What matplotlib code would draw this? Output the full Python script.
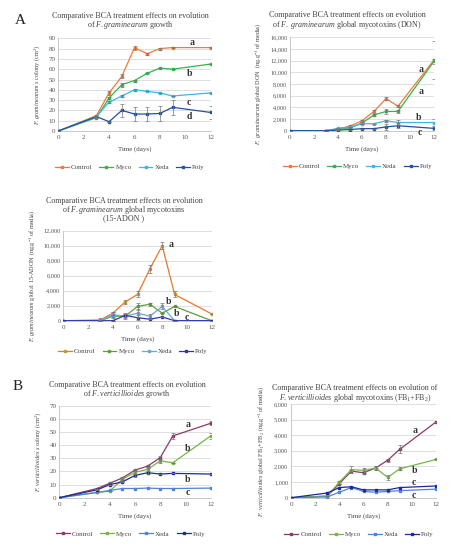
import numpy as np
import matplotlib
matplotlib.use("Agg")
import matplotlib.pyplot as plt

plt.rcParams['font.family'] = 'Liberation Serif'
plt.rcParams['mathtext.fontset'] = 'custom'
plt.rcParams['mathtext.rm'] = 'Liberation Serif'
plt.rcParams['mathtext.it'] = 'Liberation Serif:italic'

W, H = 455, 550

days = [0, 3, 4, 5, 6, 7, 8, 9, 12]
series_names = ["Control", "Myco", "Xeda", "Poly"]

# A1 - F. graminearum growth (cm2)
fg_growth = [
    [0, 15, 37, 53, 81, 75, 80, 81, 81],
    [0, 13, 32, 45, 49, 56, 61, 60, 65],
    [0, 14, 28, 34, 40, 38.5, 37, 34, 37],
    [0, 14, 9, 20, 16.5, 16.5, 17, 23, 18],
]
fg_growth_err = [
    [0, 1, 2, 2, 2, 1, 1, 0.5, 0.5],
    [0, 0, 1, 2, 1, 0, 0, 0, 0],
    [0, 0, 1, 1, 1, 0, 0, 0, 0],
    [0, 1, 0, 6, 7, 7, 7, 7, 6],
]
fg_growth_letters = [("a", 10.5, 86), ("b", 10.3, 56), ("c", 10.3, 28), ("d", 10.3, 14)]

# A2 - F. graminearum DON
fg_don = [
    [0, 0, 300, 800, 1700, 3300, 5500, 4200, 12100],
    [0, 0, 200, 500, 1300, 2700, 3300, 3300, 11900],
    [0, 0, 400, 600, 1200, 1200, 1700, 1400, 1400],
    [0, 0, 100, 200, 350, 350, 650, 850, 400],
]
fg_don_err = [
    [0, 0, 0, 100, 200, 200, 200, 200, 3200],
    [0, 0, 0, 100, 200, 200, 400, 300, 400],
    [0, 0, 0, 0, 0, 0, 200, 400, 600],
    [0, 0, 0, 0, 0, 0, 500, 400, 200],
]
fg_don_letters = [("a", 10.9, 10500), ("a", 10.9, 6800), ("b", 10.7, 2300), ("c", 10.8, -300)]

# A3 - F. graminearum 15-ADON
fg_adon = [
    [0, 100, 1000, 2500, 3500, 6900, 10000, 3500, 900],
    [0, 0, 600, 600, 1900, 2200, 1000, 1900, 0],
    [0, 0, 800, 600, 1000, 600, 1900, 0, 0],
    [0, 0, 0, 700, 400, 200, 500, 0, 0],
]
fg_adon_err = [
    [0, 0, 200, 250, 400, 500, 500, 400, 0],
    [0, 0, 200, 300, 500, 200, 0, 0, 0],
    [0, 300, 300, 400, 500, 300, 400, 0, 0],
    [0, 0, 0, 200, 300, 0, 0, 0, 0],
]
fg_adon_letters = [("a", 8.7, 10100), ("b", 8.5, 2600), ("b", 9.2, 900), ("c", 10.0, 450)]

# B1 - F. verticillioides growth (cm2)
fv_growth = [
    [0, 7, 11, 15, 21, 24, 30.5, 47, 56.6],
    [0, 4, 5, 14, 19.3, 21.6, 28, 26.6, 47],
    [0, 4, 5.5, 7, 7, 7.3, 7, 7, 7.3],
    [0, 6, 10, 12, 17, 19, 18, 18.5, 18],
]
fv_growth_err = [
    [0, 0, 1, 1, 1, 1, 1.5, 2, 1.5],
    [0, 0, 0, 1, 1, 1, 1.5, 0, 2],
    [0, 0, 0, 0, 0, 0, 0, 0, 0],
    [0, 0, 0, 0, 1, 1, 0, 0, 0],
]
fv_growth_letters = [("a", 10.2, 55.5), ("b", 10.2, 37.5), ("b", 10.2, 14), ("c", 10.2, 4)]

# B2 - F. verticillioides FB1+FB2
fv_fb = [
    [0, 100, 900, 1700, 1600, 1900, 2400, 3100, 4850],
    [0, 100, 1000, 1800, 1750, 1900, 1300, 1850, 2450],
    [0, 50, 350, 650, 400, 350, 400, 450, 550],
    [0, 300, 650, 700, 500, 500, 500, 650, 750],
]
fv_fb_err = [
    [0, 0, 0, 100, 100, 150, 100, 250, 0],
    [0, 0, 100, 200, 150, 150, 150, 100, 0],
    [0, 0, 0, 0, 0, 0, 0, 0, 0],
    [0, 0, 0, 0, 0, 0, 0, 0, 0],
]
fv_fb_letters = [("a", 10.3, 4300), ("b", 10.2, 1770), ("c", 10.2, 960), ("c", 10.2, 170)]

colors_a = ["#ef7b3a", "#34b449", "#3db6e2", "#24509f"]
colors_adon = ["#e8782c", "#5aa03a", "#6aa6de", "#2b36b3"]
colors_b = ["#8a3a64", "#78b446", "#4f82d8", "#1d2a98"]


def add_axes_px(x0, y0, x1, y1):
    return fig.add_axes([x0 / W, 1 - y1 / H, (x1 - x0) / W, (y1 - y0) / H])


def draw_panel(ax, values, errors, colors, ymax, ystep, letters, ylabel,
               ylab_x, xlab_y, leg_y, thousands=False, mcolors=None):
    for i, name in enumerate(series_names):
        mc = colors[i] if mcolors is None else mcolors[i]
        ax.plot(days, values[i], color=colors[i], lw=0.9, marker='s', ms=2,
                mfc=mc, mec=mc, label=name, zorder=3)
        err = np.array(errors[i])
        if err.any():
            ax.errorbar(days, values[i], yerr=err, fmt='none', ecolor='#777777',
                        elinewidth=0.5, capsize=1.2, capthick=0.5, zorder=4)
    ax.set_xlim(0, 12)
    ax.set_ylim(0, ymax)
    ax.set_xticks(range(0, 13, 2))
    ax.set_yticks(np.arange(0, ymax + ystep / 2, ystep))
    if thousands:
        ax.set_yticklabels([f"{int(v):,}" for v in ax.get_yticks()])
    ax.tick_params(axis='x', length=0, labelsize=5, colors='#555555', pad=3)
    ax.tick_params(axis='y', length=0, labelsize=4.5 if thousands else 5,
                   colors='#555555', pad=2)
    ax.grid(axis='y', color='#d9d9d9', lw=0.6)
    ax.set_axisbelow(True)
    for s in ['top', 'right']:
        ax.spines[s].set_visible(False)
    for s in ['left', 'bottom']:
        ax.spines[s].set_color('#bfbfbf')
        ax.spines[s].set_linewidth(0.6)
    for txt, lx, ly in letters:
        ax.text(lx, ly, txt, fontsize=7, fontweight='bold', color='#333333',
                ha='center', va='center', clip_on=False)
    ax.set_ylabel(ylabel, fontsize=4.5, color='#444444')
    ax.yaxis.set_label_coords(ylab_x, 0.5)
    ax.text(0.5, xlab_y, "Time (days)", transform=ax.transAxes, fontsize=5,
            color='#444444', ha='center', va='center')
    ax.legend(loc='center', bbox_to_anchor=(0.47, leg_y), ncol=4, frameon=False,
              fontsize=5, handlelength=2.0, columnspacing=1.0, handletextpad=0.3,
              labelcolor='#444444')


fig = plt.figure(figsize=(W / 100, H / 100), dpi=100)

title_kw = dict(fontsize=5.8, color='#444444', ha='center', va='center')

# A1
ax1 = add_axes_px(58.3, 38.3, 210.7, 131)
draw_panel(ax1, fg_growth, fg_growth_err, colors_a, 90, 10, fg_growth_letters,
           r"$\it{F.graminearum's}$ colony (cm$^2$)", -0.11, -0.195, -0.39)
fig.text(130 / W, 1 - 16 / H, "Comparative BCA treatment effects on evolution", **title_kw)
fig.text(130 / W, 1 - 25 / H, r"of $\it{F.graminearum}$ growth", **title_kw)
fig.text(20 / W, 1 - 20 / H, "A", fontsize=11, color='#222222', ha='center', va='center')

# A2
ax2 = add_axes_px(290, 37.3, 434, 130.7)
draw_panel(ax2, fg_don, fg_don_err, colors_a, 16000, 2000, fg_don_letters,
           r"$\it{F.\ graminearum}$ global DON  (ng.g$^{-1}$ of media)",
           -0.19, -0.195, -0.38, thousands=True)
fig.text(347 / W, 1 - 15 / H, "Comparative BCA treatment effects on evolution", **title_kw)
fig.text(347 / W, 1 - 25 / H, r"of $\it{F.\ graminearum}$ global mycotoxins (DON)", **title_kw)

# A3
ax3 = add_axes_px(63.3, 230.7, 211.7, 320.7)
draw_panel(ax3, fg_adon, fg_adon_err, colors_adon, 12000, 2000, fg_adon_letters,
           r"$\it{F.graminearum}$ global 15-ADON (ng.g$^{-1}$ of media)",
           -0.18, -0.2, -0.34, thousands=True,
           mcolors=["#c39a2c", "#5aa03a", "#6aa6de", "#2b36b3"])
fig.text(124 / W, 1 - 200.7 / H, "Comparative BCA treatment effects on evolution", **title_kw)
fig.text(124 / W, 1 - 210 / H, r"of $\it{F.graminearum}$ global mycotoxins", **title_kw)
fig.text(124 / W, 1 - 218.5 / H, "(15-ADON )", **title_kw)

# B1
ax4 = add_axes_px(59.3, 405.7, 210.7, 497.7)
draw_panel(ax4, fv_growth, fv_growth_err, colors_b, 70, 10, fv_growth_letters,
           r"$\it{F.verticillioides's}$ colony (cm$^2$)", -0.11, -0.195, -0.39)
fig.text(127 / W, 1 - 385 / H, "Comparative BCA treatment effects on evolution", **title_kw)
fig.text(127 / W, 1 - 393.5 / H, r"of $\it{F.verticillioides}$ growth", **title_kw)
fig.text(18 / W, 1 - 386 / H, "B", fontsize=11, color='#222222', ha='center', va='center')

# B2
ax5 = add_axes_px(291, 404, 436, 497.7)
draw_panel(ax5, fv_fb, fv_fb_err, colors_b, 6000, 1000, fv_fb_letters,
           r"$\it{F.\ verticillioides}$ global FB$_1$+FB$_2$ (ng.g$^{-1}$ of media)",
           -0.17, -0.195, -0.39, thousands=True)
fig.text(355 / W, 1 - 388 / H, "Comparative BCA treatment effects on evolution of", **title_kw)
fig.text(355 / W, 1 - 397.5 / H, r"$\it{F.verticillioides}$ global mycotoxins (FB$_1$+FB$_2$)", **title_kw)

fig.savefig("out.png", dpi=100, facecolor='white')
